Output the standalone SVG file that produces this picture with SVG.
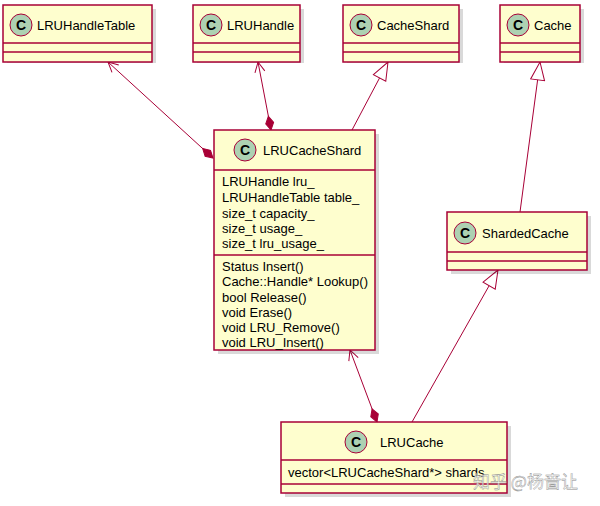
<svg xmlns="http://www.w3.org/2000/svg" width="600" height="506" viewBox="0 0 600 506">
<style>
.box{fill:#FEFECE;stroke:#A80036;stroke-width:1.5}
.sep{stroke:#A80036;stroke-width:1.5}
.t{font-family:"Liberation Sans",Arial,sans-serif;font-size:13px;fill:#000}
.c{fill:#ADD1B2;stroke:#A80036;stroke-width:1}
.cl{font-family:"Liberation Sans",Arial,sans-serif;font-size:14px;font-weight:bold;fill:#000}
.ln{stroke:#A80036;stroke-width:1;fill:none}
.sh{fill:#000;opacity:0.15}
</style>
<defs>
<marker id="arr" markerWidth="12" markerHeight="12" refX="1" refY="6" orient="auto" markerUnits="userSpaceOnUse"><path d="M11,1 L1,6 L11,11" class="ln"/></marker>
<marker id="dia" markerWidth="16" markerHeight="10" refX="15" refY="5" orient="auto" markerUnits="userSpaceOnUse"><path d="M1,5 L8,1 L15,5 L8,9 Z" fill="#A80036" stroke="#A80036"/></marker>
<marker id="tri" markerWidth="20" markerHeight="16" refX="1" refY="8" orient="auto" markerUnits="userSpaceOnUse"><path d="M1,8 L19,1 L19,15 Z" fill="#fff" stroke="#A80036"/></marker>
</defs>
<g id="connectors">
<line x1="108" y1="62" x2="213" y2="158" class="ln" marker-start="url(#arr)" marker-end="url(#dia)"/>
<line x1="258" y1="62" x2="271" y2="130" class="ln" marker-start="url(#arr)" marker-end="url(#dia)"/>
<line x1="388" y1="62" x2="352" y2="130" class="ln" marker-start="url(#tri)"/>
<line x1="540" y1="62" x2="520" y2="212" class="ln" marker-start="url(#tri)"/>
<line x1="498" y1="270" x2="412" y2="422" class="ln" marker-start="url(#tri)"/>
<line x1="350" y1="350" x2="377" y2="422" class="ln" marker-start="url(#arr)" marker-end="url(#dia)"/>
</g>
<g id="LRUHandleTable">
<rect x="7" y="9" width="149" height="54" class="sh"/>
<rect x="3" y="5" width="149" height="57" class="box"/>
<circle cx="21" cy="25" r="11" class="c"/><text x="21" y="30" class="cl" text-anchor="middle">C</text>
<text x="37" y="30" class="t">LRUHandleTable</text>
<line x1="3" y1="43" x2="152" y2="43" class="sep"/><line x1="3" y1="52" x2="152" y2="52" class="sep"/>
</g>
<g id="LRUHandle">
<rect x="197" y="9" width="107" height="54" class="sh"/>
<rect x="193" y="5" width="107" height="57" class="box"/>
<circle cx="211" cy="25" r="11" class="c"/><text x="211" y="30" class="cl" text-anchor="middle">C</text>
<text x="227" y="30" class="t">LRUHandle</text>
<line x1="193" y1="43" x2="300" y2="43" class="sep"/><line x1="193" y1="52" x2="300" y2="52" class="sep"/>
</g>
<g id="CacheShard">
<rect x="347" y="9" width="116" height="54" class="sh"/>
<rect x="343" y="5" width="116" height="57" class="box"/>
<circle cx="361" cy="25" r="11" class="c"/><text x="361" y="30" class="cl" text-anchor="middle">C</text>
<text x="377" y="30" class="t">CacheShard</text>
<line x1="343" y1="43" x2="459" y2="43" class="sep"/><line x1="343" y1="52" x2="459" y2="52" class="sep"/>
</g>
<g id="Cache">
<rect x="504" y="9" width="80" height="54" class="sh"/>
<rect x="500" y="5" width="80" height="57" class="box"/>
<circle cx="518" cy="25" r="11" class="c"/><text x="518" y="30" class="cl" text-anchor="middle">C</text>
<text x="534" y="30" class="t">Cache</text>
<line x1="500" y1="43" x2="580" y2="43" class="sep"/><line x1="500" y1="52" x2="580" y2="52" class="sep"/>
</g>
<g id="LRUCacheShard">
<rect x="218" y="134" width="161" height="220" class="sh"/>
<rect x="214" y="130" width="161" height="220" class="box"/>
<circle cx="245" cy="150" r="11" class="c"/><text x="245" y="155" class="cl" text-anchor="middle">C</text>
<text x="263" y="155" class="t">LRUCacheShard</text>
<line x1="214" y1="170" x2="375" y2="170" class="sep"/>
<text x="222" y="186" class="t">LRUHandle lru_</text>
<text x="222" y="202" class="t">LRUHandleTable table_</text>
<text x="222" y="218" class="t">size_t capacity_</text>
<text x="222" y="233" class="t">size_t usage_</text>
<text x="222" y="248" class="t">size_t lru_usage_</text>
<line x1="214" y1="255" x2="375" y2="255" class="sep"/>
<text x="222" y="271" class="t">Status Insert()</text>
<text x="222" y="286" class="t">Cache::Handle* Lookup()</text>
<text x="222" y="302" class="t">bool Release()</text>
<text x="222" y="317" class="t">void Erase()</text>
<text x="222" y="332" class="t">void LRU_Remove()</text>
<text x="222" y="347" class="t">void LRU_Insert()</text>
</g>
<g id="ShardedCache">
<rect x="451" y="216" width="140" height="58" class="sh"/>
<rect x="447" y="212" width="140" height="58" class="box"/>
<circle cx="465" cy="233" r="11" class="c"/><text x="465" y="238" class="cl" text-anchor="middle">C</text>
<text x="482" y="238" class="t">ShardedCache</text>
<line x1="447" y1="252" x2="587" y2="252" class="sep"/><line x1="447" y1="261" x2="587" y2="261" class="sep"/>
</g>
<g id="LRUCache">
<rect x="285" y="426" width="226" height="71" class="sh"/>
<rect x="281" y="422" width="226" height="71" class="box"/>
<circle cx="356" cy="442" r="11" class="c"/><text x="356" y="447" class="cl" text-anchor="middle">C</text>
<text x="380" y="447" class="t">LRUCache</text>
<line x1="281" y1="460" x2="507" y2="460" class="sep"/>
<text x="288" y="477" class="t">vector&lt;LRUCacheShard*&gt; shards</text>
<line x1="281" y1="484" x2="507" y2="484" class="sep"/>
</g>
<text x="473" y="488" font-family="'Noto Sans CJK SC',sans-serif" font-size="17" fill="#fff" fill-opacity="0.75" stroke="#888" stroke-width="0.4">知乎 @杨啬让</text>
</svg>
